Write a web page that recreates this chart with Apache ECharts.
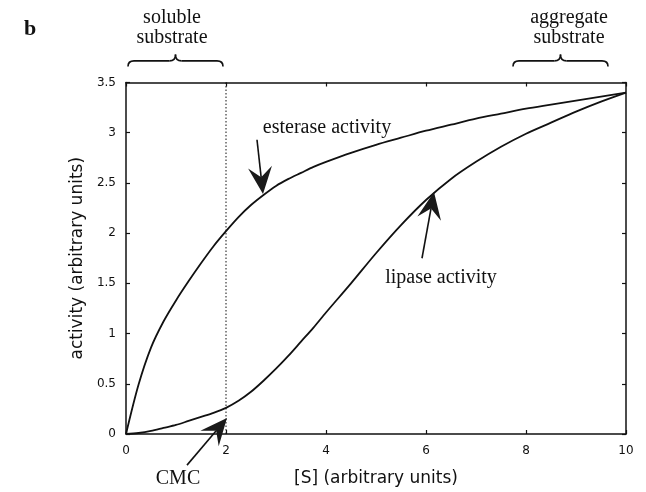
<!DOCTYPE html>
<html>
<head>
<meta charset="utf-8">
<script src="https://cdn.jsdelivr.net/npm/echarts@6/dist/echarts.min.js"></script>
<style>
html,body{margin:0;padding:0;background:#fff;}
#c{width:646px;height:492px;}
</style>
</head>
<body>
<div id="c"></div>
<script>
// Data
var sValues = [0, 0.25, 0.5, 0.75, 1, 1.25, 1.5, 1.75, 2, 2.25, 2.5, 2.75, 3, 3.25, 3.5, 3.75, 4,
  4.5, 5, 5.5, 6, 6.5, 7, 7.5, 8, 8.5, 9, 9.5, 10];
var esterase = [0, 0.49, 0.86, 1.12, 1.33, 1.52, 1.70, 1.87, 2.02, 2.16, 2.28, 2.38, 2.47, 2.54, 2.60, 2.66, 2.71,
  2.80, 2.88, 2.95, 3.02, 3.08, 3.14, 3.19, 3.24, 3.28, 3.32, 3.36, 3.40];
var lipase = [0, 0.01, 0.03, 0.06, 0.09, 0.13, 0.17, 0.21, 0.26, 0.33, 0.42, 0.53, 0.65, 0.78, 0.92, 1.06, 1.21,
  1.50, 1.80, 2.08, 2.33, 2.54, 2.71, 2.86, 2.99, 3.10, 3.21, 3.31, 3.40];
var cmcX = 2;
var xTicks = [0, 2, 4, 6, 8, 10];
var yTicks = [0, 0.5, 1, 1.5, 2, 2.5, 3, 3.5];

// Annotations (data units): arrows tail -> tip
var arrowEsterase = [[2.62, 2.93], [2.74, 2.39]];
var arrowLipase = [[5.92, 1.75], [6.16, 2.41]];
var arrowCMC = [[1.22, -0.31], [2.02, 0.16]];
var labelEsterase = ['esterase activity', 4.02, 3.05];
var labelLipase = ['lipase activity', 6.3, 1.56];
var labelCMC = ['CMC', 1.04, -0.45];
var labelSoluble = ['soluble\nsubstrate', 0.92, 4.05];
var labelAggregate = ['aggregate\nsubstrate', 8.86, 4.05];
var braceSoluble = [0.04, 1.94, 3.78, 3.66];
var braceAggregate = [7.74, 9.64, 3.78, 3.66];

function pairs(xs, ys) { return xs.map(function (x, i) { return [x, ys[i]]; }); }

var chart = echarts.init(document.getElementById('c'), null, { renderer: 'canvas' });
var axisCommon = {
  type: 'value',
  axisLine: { show: true, onZero: false, lineStyle: { color: '#111', width: 1.5 } },
  axisTick: { show: true, inside: true, length: 4, lineStyle: { color: '#111', width: 1.2 } },
  splitLine: { show: false }
};
var tickFont = { fontFamily: 'DejaVu Sans', fontSize: 12, color: '#111' };
var titleFont = { fontFamily: 'DejaVu Sans', fontSize: 17, color: '#111' };

chart.setOption({
  animation: false,
  backgroundColor: '#fff',
  grid: { left: 126, right: 20, top: 82.5, bottom: 55.5, containLabel: false },
  xAxis: [
    Object.assign({}, axisCommon, {
      min: xTicks[0], max: xTicks[xTicks.length - 1], interval: 2, position: 'bottom',
      axisLabel: Object.assign({ margin: 11 }, tickFont),
      name: '[S] (arbitrary units)', nameLocation: 'middle', nameGap: 36, nameTextStyle: titleFont
    }),
    Object.assign({}, axisCommon, {
      min: xTicks[0], max: xTicks[xTicks.length - 1], interval: 2, position: 'top',
      axisLabel: { show: false }
    })
  ],
  yAxis: [
    Object.assign({}, axisCommon, {
      min: yTicks[0], max: yTicks[yTicks.length - 1], interval: 0.5, position: 'left',
      axisLabel: Object.assign({ margin: 10 }, tickFont),
      name: 'activity (arbitrary units)', nameLocation: 'middle', nameGap: 38, nameRotate: 90, nameTextStyle: titleFont
    }),
    Object.assign({}, axisCommon, {
      min: yTicks[0], max: yTicks[yTicks.length - 1], interval: 0.5, position: 'right',
      axisLabel: { show: false }
    })
  ],
  series: [
    { type: 'line', name: 'esterase', data: pairs(sValues, esterase), smooth: 0.3, symbol: 'none',
      lineStyle: { color: '#111', width: 1.8 }, z: 3 },
    { type: 'line', name: 'lipase', data: pairs(sValues, lipase), smooth: 0.3, symbol: 'none',
      lineStyle: { color: '#111', width: 1.8 }, z: 3 },
    { type: 'line', name: 'CMC', data: [[cmcX, yTicks[0]], [cmcX, yTicks[yTicks.length - 1]]], symbol: 'none',
      lineStyle: { color: '#111', width: 1, type: [1.5, 2] }, z: 2 }
  ]
});

function px(p) { return chart.convertToPixel({ gridIndex: 0 }, p); }

var g = [];
function arrow(a) {
  var t = px(a[0]), h = px(a[1]);
  var dx = h[0] - t[0], dy = h[1] - t[1], len = Math.sqrt(dx * dx + dy * dy);
  var ux = dx / len, uy = dy / len, nx = -uy, ny = ux;
  var L = 27, W = 12, N = 0.62;
  g.push({ type: 'line', shape: { x1: t[0], y1: t[1], x2: h[0] - ux * L * N, y2: h[1] - uy * L * N },
    style: { stroke: '#111', lineWidth: 1.6 }, z: 10 });
  g.push({ type: 'polygon', shape: { points: [
    [h[0], h[1]],
    [h[0] - ux * L + nx * W, h[1] - uy * L + ny * W],
    [h[0] - ux * L * N, h[1] - uy * L * N],
    [h[0] - ux * L - nx * W, h[1] - uy * L - ny * W]
  ] }, style: { fill: '#1a1a1a' }, z: 10 });
}
function label(l) {
  var p = px([l[1], l[2]]);
  g.push({ type: 'text', x: p[0], y: p[1], style: { text: l[0], fill: '#111',
    font: '20px "Liberation Serif"', align: 'center', verticalAlign: 'middle', lineHeight: 20 }, z: 10 });
}
function brace(b) {
  var a = px([b[0], b[2]]), c = px([b[1], b[3]]);
  var x1 = a[0], x2 = c[0], yTop = a[1], yEnd = c[1];
  var yMid = (yTop + yEnd) / 2 + 0.5, xm = (x1 + x2) / 2, s = 6;
  var st = { stroke: '#111', lineWidth: 1.6, fill: null };
  g.push({ type: 'bezierCurve', shape: { x1: x1, y1: yEnd, x2: x1 + s, y2: yMid, cpx1: x1, cpy1: yMid }, style: st, z: 10 });
  g.push({ type: 'line', shape: { x1: x1 + s, y1: yMid, x2: xm - s, y2: yMid }, style: st, z: 10 });
  g.push({ type: 'bezierCurve', shape: { x1: xm - s, y1: yMid, x2: xm, y2: yTop, cpx1: xm, cpy1: yMid }, style: st, z: 10 });
  g.push({ type: 'bezierCurve', shape: { x1: xm, y1: yTop, x2: xm + s, y2: yMid, cpx1: xm, cpy1: yMid }, style: st, z: 10 });
  g.push({ type: 'line', shape: { x1: xm + s, y1: yMid, x2: x2 - s, y2: yMid }, style: st, z: 10 });
  g.push({ type: 'bezierCurve', shape: { x1: x2 - s, y1: yMid, x2: x2, y2: yEnd, cpx1: x2, cpy1: yMid }, style: st, z: 10 });
}
arrow(arrowEsterase); arrow(arrowLipase); arrow(arrowCMC);
label(labelEsterase); label(labelLipase); label(labelCMC); label(labelSoluble); label(labelAggregate);
brace(braceSoluble); brace(braceAggregate);
g.push({ type: 'text', left: 24, top: 18, style: { text: 'b', fill: '#111', font: 'bold 22px "Liberation Serif"' }, z: 10 });

chart.setOption({ graphic: { elements: g } });
</script>
</body>
</html>
